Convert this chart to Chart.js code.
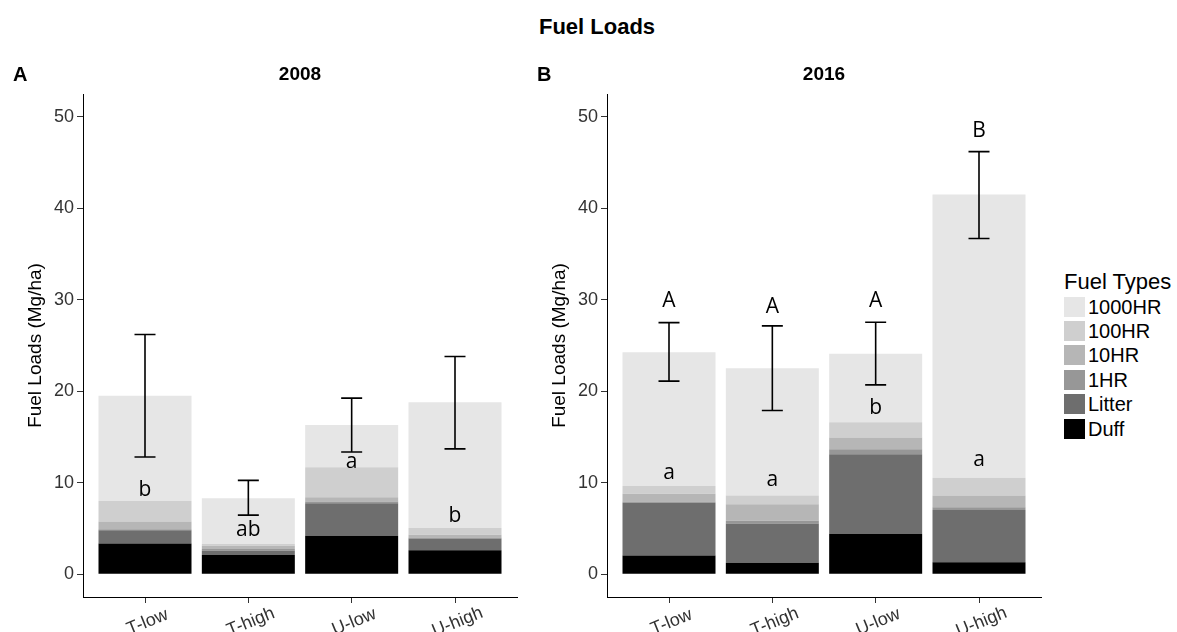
<!DOCTYPE html>
<html>
<head>
<meta charset="utf-8">
<title>Fuel Loads</title>
<script src="https://cdn.jsdelivr.net/npm/chart.js@4.4.1/dist/chart.umd.min.js"></script>
<style>
  body { margin: 0; background: #fff; }
  #wrap { position: relative; width: 1177px; height: 632px; overflow: hidden;
          font-family: "Liberation Sans", Arial, sans-serif; color: #000; }
  #mainTitle { position: absolute; left: 0; top: 13px; width: 1194px; text-align: center;
               font-size: 22px; font-weight: bold; line-height: 28px; }
  canvas { position: absolute; top: 0; }
  #legend { position: absolute; left: 1064px; top: 0; }
  .lg-title { position: absolute; left: 0; top: 269px; font-size: 22px; line-height: 26px; white-space: nowrap; }
  .lg-row { position: absolute; left: 0; height: 24px; white-space: nowrap; }
  .lg-box { position: absolute; left: 0; top: 2px; width: 21px; height: 20px; }
  .lg-text { position: absolute; left: 24px; top: 0; font-size: 20px; line-height: 24px; }
</style>
</head>
<body>
<div id="wrap">
  <div id="mainTitle">Fuel Loads</div>
  <canvas id="chart2008" width="530" height="632" style="left:0px"></canvas>
  <canvas id="chart2016" width="530" height="632" style="left:524px"></canvas>
  <div id="legend"></div>
</div>
<script>
var categories = ['T-low', 'T-high', 'U-low', 'U-high'];
// stacking order, bottom to top
var fuelTypes = ['Duff', 'Litter', '1HR', '10HR', '100HR', '1000HR'];
var fuelColors = ['#000000', '#6e6e6e', '#979797', '#b6b6b6', '#cfcfcf', '#e6e6e6'];
var yTicks = [0, 10, 20, 30, 40, 50];

// 2008 loads (Mg/ha)
var duff2008 = [3.35, 2.1, 4.2, 2.6];
var litter2008 = [1.45, 0.45, 3.55, 1.3];
var hr1_2008 = [0.1, 0.2, 0.2, 0.1];
var hr10_2008 = [0.85, 0.35, 0.45, 0.3];
var hr100_2008 = [2.25, 0.2, 3.3, 0.75];
var hr1000_2008 = [11.5, 5.0, 4.6, 13.75];
var errLow2008 = [12.8, 6.45, 13.35, 13.7];
var errHigh2008 = [26.2, 10.25, 19.25, 23.8];
var letters2008 = ['b', 'ab', 'a', 'b'];
var letterY2008 = [9.2, 4.8, 12.3, 6.4];

// 2016 loads (Mg/ha)
var duff2016 = [2.05, 1.25, 4.4, 1.3];
var litter2016 = [5.75, 4.3, 8.7, 5.7];
var hr1_2016 = [0.15, 0.3, 0.55, 0.3];
var hr10_2016 = [0.85, 1.8, 1.3, 1.3];
var hr100_2016 = [0.85, 0.95, 1.65, 1.95];
var hr1000_2016 = [14.6, 13.9, 7.5, 30.95];
var errLow2016 = [21.1, 17.9, 20.7, 36.7];
var errHigh2016 = [27.5, 27.15, 27.55, 46.2];
var letters2016 = ['a', 'a', 'b', 'a'];
var letterY2016 = [11.06, 10.26, 18.2, 12.45];
var lettersUp2016 = ['A', 'A', 'A', 'B'];
var letterUpY2016 = [29.9, 29.2, 29.9, 48.5];

var fontFamily = '"Liberation Sans", Arial, sans-serif';
Chart.defaults.font.family = fontFamily;

// error bars, letters, rotated category labels and panel headings
var panelExtras = {
    id: 'panelExtras',
    afterDatasetsDraw: function (chart, args, opts) {
        var ctx = chart.ctx, xs = chart.scales.x, ys = chart.scales.y;
        ctx.save();
        ctx.strokeStyle = '#000';
        ctx.lineWidth = 1.6;
        for (var i = 0; i < categories.length; i++) {
            var px = xs.getPixelForValue(i + 1);
            var lo = ys.getPixelForValue(opts.errLow[i]);
            var hi = ys.getPixelForValue(opts.errHigh[i]);
            ctx.beginPath();
            ctx.moveTo(px, lo); ctx.lineTo(px, hi);
            ctx.moveTo(px - 10.5, lo); ctx.lineTo(px + 10.5, lo);
            ctx.moveTo(px - 10.5, hi); ctx.lineTo(px + 10.5, hi);
            ctx.stroke();
        }
        ctx.fillStyle = '#000';
        ctx.font = '21px "Open Sans"';
        ctx.textAlign = 'center';
        ctx.textBaseline = 'middle';
        opts.letters.forEach(function (set) {
            set.text.forEach(function (t, j) {
                ctx.fillText(t, xs.getPixelForValue(j + 1), ys.getPixelForValue(set.y[j]));
            });
        });
        ctx.restore();
    },
    afterDraw: function (chart, args, opts) {
        var ctx = chart.ctx, xs = chart.scales.x, area = chart.chartArea;
        ctx.save();
        ctx.fillStyle = '#000';
        ctx.textBaseline = 'middle';
        ctx.font = 'bold 20px ' + fontFamily;
        ctx.textAlign = 'left';
        ctx.fillText(opts.tag, 13, 75);
        ctx.font = 'bold 19px ' + fontFamily;
        ctx.textAlign = 'center';
        ctx.fillText(opts.year, (area.left + area.right) / 2, 75);
        ctx.fillStyle = '#333';
        ctx.font = '18px ' + fontFamily;
        categories.forEach(function (c, i) {
            ctx.save();
            ctx.translate(xs.getPixelForValue(i + 1) + 2.5, 622);
            ctx.rotate(-22 * Math.PI / 180);
            ctx.fillText(c, 0, 0);
            ctx.restore();
        });
        ctx.restore();
    }
};

function buildPanel(id, tag, year, layers, errLow, errHigh, letterSets) {
    var datasets = fuelTypes.map(function (f, k) {
        return {
            label: f,
            data: layers[k].map(function (v, i) { return { x: i + 1, y: v }; }),
            backgroundColor: fuelColors[k],
            borderWidth: 0,
            categoryPercentage: 1,
            barPercentage: 0.9
        };
    });
    return new Chart(document.getElementById(id), {
        type: 'bar',
        data: { datasets: datasets },
        plugins: [panelExtras],
        options: {
            responsive: false,
            animation: false,
            devicePixelRatio: 1,
            layout: { padding: { left: 0, right: 13, top: 94, bottom: 0 } },
            plugins: {
                legend: { display: false },
                tooltip: { enabled: false },
                title: { display: false },
                panelExtras: { tag: tag, year: year, errLow: errLow, errHigh: errHigh, letters: letterSets }
            },
            scales: {
                x: {
                    type: 'linear', stacked: true, min: 0.4, max: 4.6, offset: false,
                    grid: { display: true, drawOnChartArea: false, drawTicks: true, tickLength: 6, color: '#333', offset: false },
                    border: { display: true, color: '#000', width: 1 },
                    ticks: { display: false },
                    afterBuildTicks: function (s) {
                        s.ticks = categories.map(function (c, i) { return { value: i + 1 }; });
                    },
                    afterFit: function (s) { s.height = 35; }
                },
                y: {
                    type: 'linear', stacked: true, min: -2.5, max: 52.5,
                    grid: { display: true, drawOnChartArea: false, drawTicks: true, tickLength: 6, color: '#333' },
                    border: { display: true, color: '#000', width: 1 },
                    ticks: { color: '#333', font: { size: 18 }, padding: 3 },
                    afterBuildTicks: function (s) {
                        s.ticks = yTicks.map(function (v) { return { value: v }; });
                    },
                    afterFit: function (s) { s.width = 83; },
                    title: { display: true, text: 'Fuel Loads (Mg/ha)', color: '#000', font: { size: 19 }, padding: { top: 24, bottom: 0 } }
                }
            }
        }
    });
}

buildPanel('chart2008', 'A', '2008',
    [duff2008, litter2008, hr1_2008, hr10_2008, hr100_2008, hr1000_2008],
    errLow2008, errHigh2008,
    [{ text: letters2008, y: letterY2008 }]);

buildPanel('chart2016', 'B', '2016',
    [duff2016, litter2016, hr1_2016, hr10_2016, hr100_2016, hr1000_2016],
    errLow2016, errHigh2016,
    [{ text: letters2016, y: letterY2016 }, { text: lettersUp2016, y: letterUpY2016 }]);

// legend, top item = last stacked layer
var legend = document.getElementById('legend');
var lt = document.createElement('div');
lt.className = 'lg-title';
lt.textContent = 'Fuel Types';
legend.appendChild(lt);
for (var r = 0; r < fuelTypes.length; r++) {
    var k = fuelTypes.length - 1 - r;
    var row = document.createElement('div');
    row.className = 'lg-row';
    row.style.top = (294.6 + 24.4 * r) + 'px';
    var box = document.createElement('div');
    box.className = 'lg-box';
    box.style.background = fuelColors[k];
    var txt = document.createElement('div');
    txt.className = 'lg-text';
    txt.textContent = fuelTypes[k];
    row.appendChild(box);
    row.appendChild(txt);
    legend.appendChild(row);
}
</script>
</body>
</html>
